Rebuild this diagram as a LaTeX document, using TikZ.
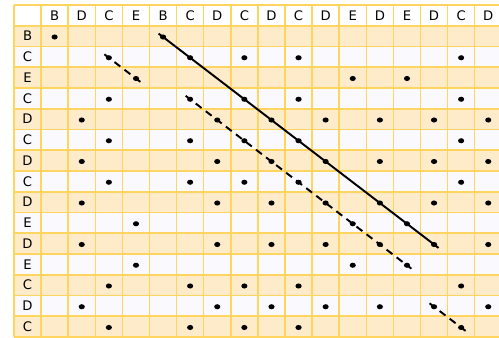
\documentclass[tikz,border=0pt]{standalone}
\usepackage{fontspec}
\setmainfont{DejaVu Sans}
\usepackage{tikz}
\usetikzlibrary{shapes.geometric}
\definecolor{cellorange}{RGB}{253,235,201}
\definecolor{cellwhite}{RGB}{250,249,253}
\definecolor{gridgold}{RGB}{255,212,95}

\begin{document}
\begin{tikzpicture}[x=0.542cm,y=-0.415cm,
    hdr/.style={font=\fontsize{7.5pt}{8pt}\selectfont, inner sep=0pt},
    dotmark/.style={ellipse, fill=black, inner sep=0pt, minimum width=3.5pt, minimum height=2.9pt, yshift=-0.5pt},
    gridline/.style={draw=gridgold, line width=0.9pt},
    matchline/.style={line width=1.1pt, shorten <=-3.2pt, shorten >=-3.2pt}]
    \useasboundingbox (-0.28cm,0.1cm) rectangle (9.70cm,-6.66cm);
    \clip (-0.28cm,0.1cm) rectangle (9.70cm,-6.66cm);
    \def\colseq{B,D,C,E,B,C,D,C,D,C,D,E,D,E,D,C,D}
    \def\rowseq{B,C,E,C,D,C,D,C,D,E,D,E,C,D,C}
    \fill[white] (0,0) rectangle (18,1);
    \fill[cellwhite] (0,1) rectangle (18,16);
    \foreach \i in {1,3,...,15} \fill[cellorange] (0,\i) rectangle (18,\i+1);
    \foreach \k in {0,...,18} \draw[gridline] (\k,0) -- (\k,16);
    \foreach \k in {0,...,16} \draw[gridline] (0,\k) -- (18,\k);
    \foreach \c [count=\j] in \colseq
        \node[hdr] (col-\j) at (\j+0.5,0.5) {\c};
    \foreach \r [count=\i] in \rowseq {
        \node[hdr] (row-\i) at (0.5,\i+0.5) {\r};
        \foreach \c [count=\j] in \colseq {
            \ifx\r\c \node[dotmark] (d-\i-\j) at (\j+0.5,\i+0.5) {}; \fi
        }
    }
    \draw[matchline] (d-1-5.center) -- (d-11-15.center);
    \draw[matchline, dash pattern=on 4.2pt off 3pt] (d-2-3.center) -- (d-3-4.center);
    \draw[matchline, dash pattern=on 4.2pt off 3pt] (d-4-6.center) -- (d-12-14.center);
    \draw[matchline, dash pattern=on 4.2pt off 3pt] (d-14-15.center) -- (d-15-16.center);
\end{tikzpicture}
\end{document}
